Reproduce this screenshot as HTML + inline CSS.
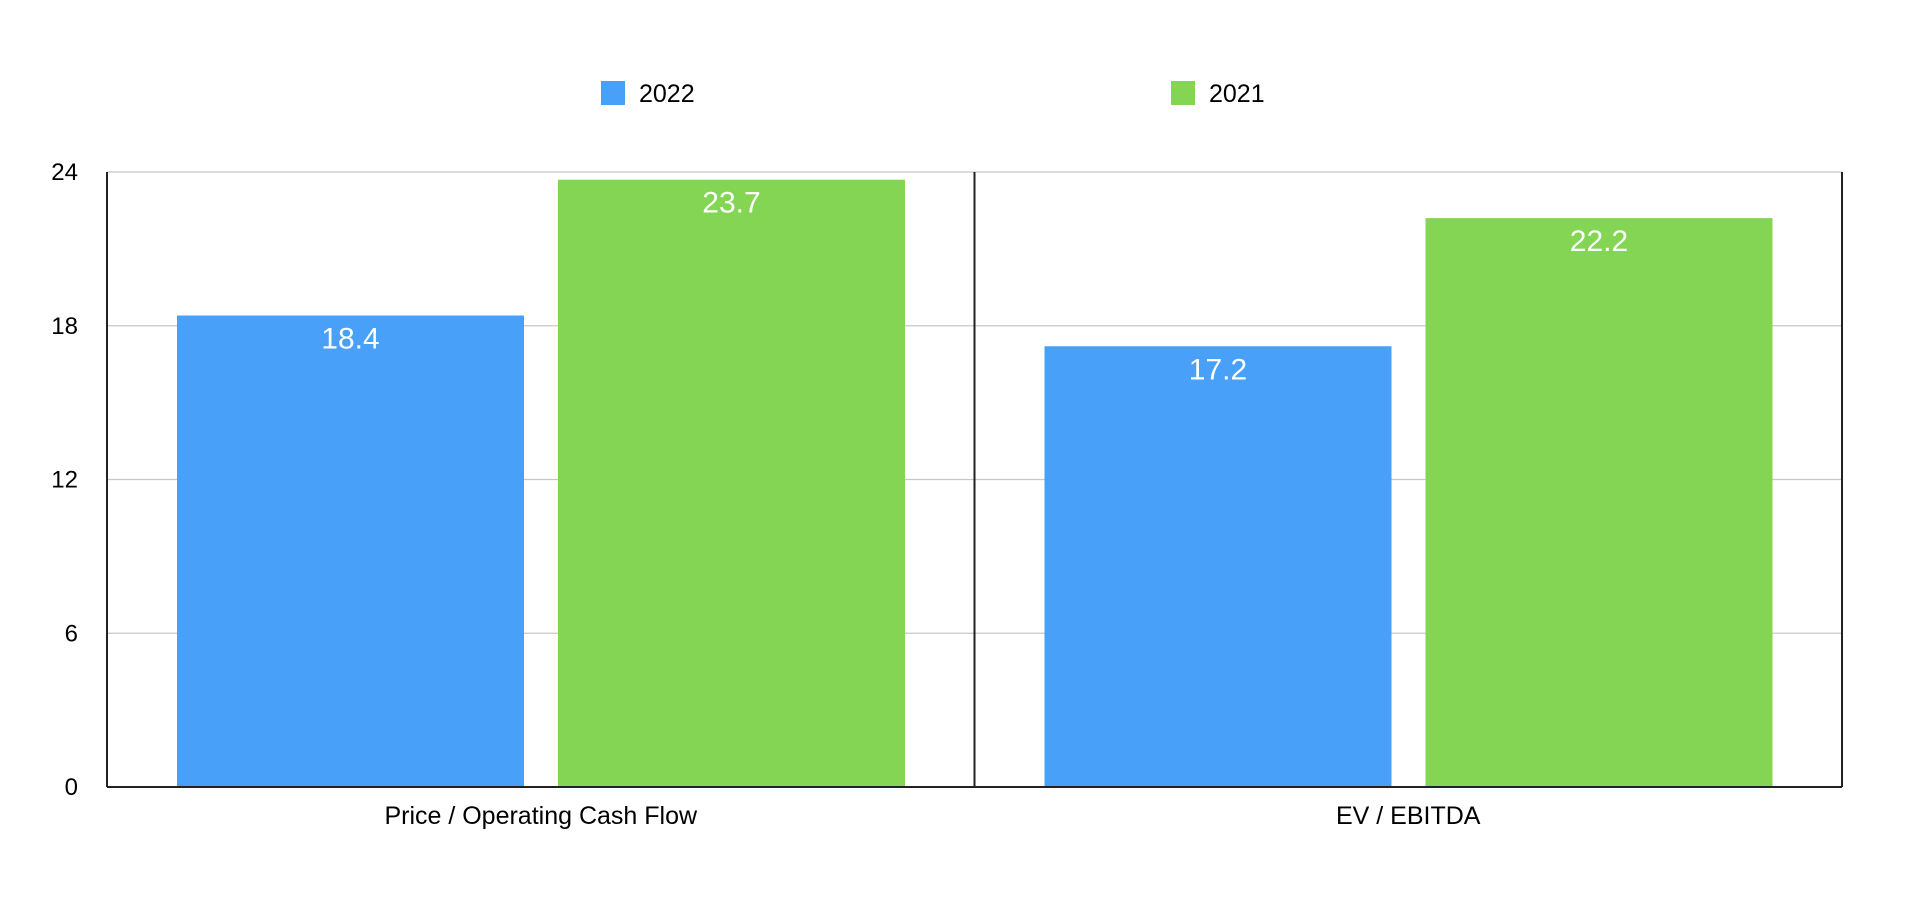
<!DOCTYPE html>
<html><head><meta charset="utf-8"><style>
body{margin:0;background:#fff;width:1928px;height:908px;overflow:hidden;font-family:"Liberation Sans",sans-serif}
</style></head><body>
<svg id="chart" width="1928" height="908" xmlns="http://www.w3.org/2000/svg" font-family="Liberation Sans, sans-serif"></svg>
<script>
const categories = ["Price / Operating Cash Flow", "EV / EBITDA"];
const series2022 = [18.4, 17.2];
const series2021 = [23.7, 22.2];
const seriesNames = ["2022", "2021"];
const yTicks = [0, 6, 12, 18, 24];

const svg = document.getElementById('chart');
const NS = 'http://www.w3.org/2000/svg';
const L = 107, R = 1842, T = 172, B = 787, yMax = 24;
const colors = ['#48a0f8', '#83d553'];
const catW = (R - L) / categories.length;
const y = v => B - (v / yMax) * (B - T);
const barX = (ci, si) => L + ci * catW + 70 + si * (347 + 34);
function mk(tag, attrs, text) {
  const e = document.createElementNS(NS, tag);
  for (const k in attrs) e.setAttribute(k, attrs[k]);
  if (text !== undefined) e.textContent = text;
  svg.appendChild(e);
  return e;
}
yTicks.forEach(t => {
  if (t > 0) {
    const g = mk('line', {x1: L, x2: R, y1: y(t), y2: y(t), stroke: '#c8c8c8', 'stroke-width': 1.2});
    
    
  }
  const lb = mk('text', {x: 78, y: y(t) + 8, 'text-anchor': 'end', 'font-size': 24, fill: '#000'}, String(t));
  
  
});
const data = [series2022, series2021];
categories.forEach((c, ci) => {
  data.forEach((s, si) => {
    const x = barX(ci, si);
    const r = mk('rect', {x: x, y: y(s[ci]), width: 347, height: B - y(s[ci]), fill: colors[si]});
    
    
    const v = mk('text', {x: x + 173.5, y: y(s[ci]) + 33, 'text-anchor': 'middle', 'font-size': 30, fill: '#fff'}, s[ci].toFixed(1));
    
    
  });
  const xl = mk('text', {x: L + catW * (ci + 0.5), y: 824, 'text-anchor': 'middle', 'font-size': 25, fill: '#000'}, c);
  
  
});
[[L, T, L, B], [L, B, R, B], [R, T, R, B], [L + catW, T, L + catW, B]].forEach((p, i) => {
  const ln = mk('line', {x1: p[0], y1: p[1], x2: p[2], y2: p[3], stroke: '#222', 'stroke-width': 2});
  
  
});
const legX = [601, 1171];
seriesNames.forEach((n, i) => {
  const sq = mk('rect', {x: legX[i], y: 81, width: 24, height: 24, fill: colors[i]});
  
  
  const tx = mk('text', {x: legX[i] + 38, y: 102, 'font-size': 25, fill: '#000'}, n);
  
  
});
</script>
</body></html>
